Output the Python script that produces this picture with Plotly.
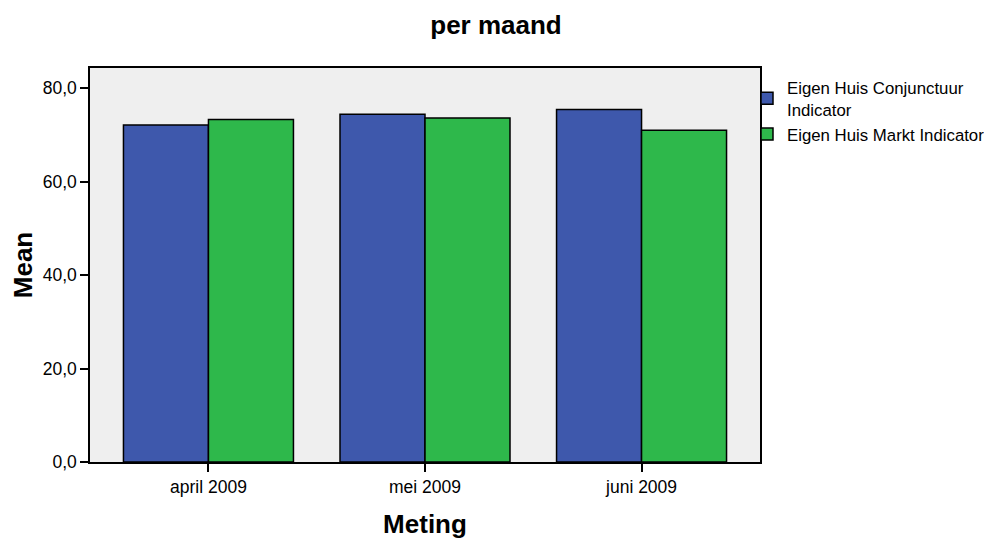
import plotly.graph_objects as go

categories = ["april 2009", "mei 2009", "juni 2009"]
conjunctuur = [72.1, 74.4, 75.4]
markt = [73.3, 73.6, 71.0]
series_names = ["Eigen Huis Conjunctuur<br>Indicator", "Eigen Huis Markt Indicator"]
y_ticks = [0, 20, 40, 60, 80]

W, H = 984, 533  # page adds an 8px body margin

fig = go.Figure()
fig.add_trace(go.Bar(x=categories, y=conjunctuur, name=series_names[0],
                     marker=dict(color="#3e58ac", line=dict(color="black", width=1.5))))
fig.add_trace(go.Bar(x=categories, y=markt, name=series_names[1],
                     marker=dict(color="#2eb84b", line=dict(color="black", width=1.5))))

fig.update_layout(
    width=W, height=H,
    barmode="group", bargap=0.215, bargroupgap=0,
    paper_bgcolor="white", plot_bgcolor="#efefef",
    separators=",.",
    font=dict(family="Liberation Sans, Arial", size=17, color="black"),
    margin=dict(l=82, r=232, t=60, b=79, autoexpand=False),
    title=dict(text="<b>per maand</b>", x=(496 - 8) / W, xref="container", xanchor="center",
               y=1 - 17 / H, yref="container", yanchor="middle", font=dict(size=26)),
    legend=dict(x=739 / W, xref="container", xanchor="left", y=1 - 62 / H, yref="container",
                yanchor="top", bgcolor="rgba(0,0,0,0)",
                font=dict(size=16.8), tracegroupgap=0, itemwidth=30),
    showlegend=True,
)
fig.update_xaxes(range=[-0.547, 2.547], showline=True, linecolor="black", linewidth=1.5, mirror=True,
                 ticks="outside", ticklen=8, tickwidth=2, tickcolor="black", automargin=False,
                 tickfont=dict(size=17.5),
                 title=dict(text="<b>Meting</b>", font=dict(size=26), standoff=19))
fig.update_yaxes(range=[0, 84.3], tickvals=y_ticks, tickformat=".1f", showline=True,
                 linecolor="black", linewidth=1.5, mirror=True, showgrid=False, zeroline=False,
                 ticks="outside", ticklen=8, tickwidth=2, tickcolor="black", automargin=False,
                 tickfont=dict(size=17.5),
                 title=dict(text="<b>Mean</b>", font=dict(size=26), standoff=8))

fig.write_html("out.html")
